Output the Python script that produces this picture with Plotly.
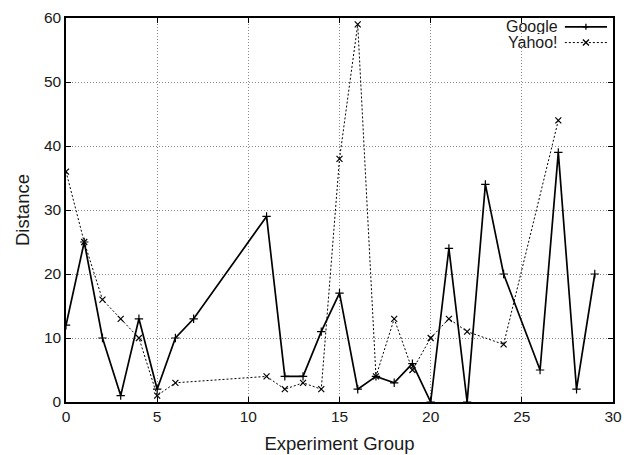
import plotly.graph_objects as go

google_x = [0, 1, 2, 3, 4, 5, 6, 7, 11, 12, 13, 14, 15, 16, 17, 18, 19, 20, 21, 22, 23, 24, 26, 27, 28, 29]
google_y = [12, 25, 10, 1, 13, 2, 10, 13, 29, 4, 4, 11, 17, 2, 4, 3, 6, 0, 24, 0, 34, 20, 5, 39, 2, 20]

yahoo_x = [0, 1, 2, 3, 4, 5, 6, 11, 12, 13, 14, 15, 16, 17, 18, 19, 20, 21, 22, 24, 27]
yahoo_y = [36, 25, 16, 13, 10, 1, 3, 4, 2, 3, 2, 38, 59, 4, 13, 5, 10, 13, 11, 9, 44]

x_ticks = [0, 5, 10, 15, 20, 25, 30]
y_ticks = [0, 10, 20, 30, 40, 50, 60]

FONT = "Liberation Sans, Arial, Helvetica, sans-serif"
TXT = "#1a1a1a"

fig = go.Figure()
fig.add_trace(go.Scatter(
    x=google_x, y=google_y, mode="lines+markers", name="Google",
    line=dict(color="black", width=1.7),
    marker=dict(symbol="cross-thin", size=6, color="black", line=dict(color="black", width=1.2)),
    showlegend=False,
))
fig.add_trace(go.Scatter(
    x=yahoo_x, y=yahoo_y, mode="lines+markers", name="Yahoo!",
    line=dict(color="black", width=1, dash="2px,2px"),
    marker=dict(symbol="x-thin", size=6, color="black", line=dict(color="black", width=1.2)),
    showlegend=False,
))

axis_common = dict(
    showline=True, linecolor="black", linewidth=1.5, mirror="ticks",
    ticks="inside", ticklen=5, tickcolor="black", tickwidth=1,
    showgrid=True, gridcolor="#8a8a8a", griddash="1px,2px", gridwidth=1,
    zeroline=False, automargin=False, tickfont=dict(size=15.5, color=TXT, family=FONT),
)

fig.update_xaxes(range=[0, 30], tickvals=x_ticks,
                 title=dict(text="Experiment Group", font=dict(size=18.5, color=TXT, family=FONT), standoff=13),
                 **axis_common)
fig.update_yaxes(range=[0, 60], tickvals=y_ticks,
                 title=dict(text="Distance", font=dict(size=18.5, color=TXT, family=FONT), standoff=9),
                 **axis_common)

# gnuplot-style key: text right-aligned, line sample to its right
leg_text_x = 0.903
leg_x0, leg_x1 = 0.912, 0.989
legend_entries = [("Google", 0.977, dict(color="black", width=1.7), "plus"),
                  ("Yahoo!", 0.936, dict(color="black", width=1, dash="2px,2px"), "x")]
shapes = []
annotations = []
for name, yy, ln, mk in legend_entries:
    annotations.append(dict(x=leg_text_x, y=yy, xref="paper", yref="paper", text=name, showarrow=False,
                            xanchor="right", yanchor="middle", height=15, valign="middle",
                            font=dict(size=16, color=TXT, family=FONT)))
    shapes.append(dict(type="line", xref="paper", yref="paper", x0=leg_x0, x1=leg_x1, y0=yy, y1=yy, line=ln))
    xm = (leg_x0 + leg_x1) / 2
    if mk == "plus":
        path = "M-3,0 L3,0 M0,-3 L0,3"
    else:
        path = "M-3,-3 L3,3 M-3,3 L3,-3"
    shapes.append(dict(type="path", xref="paper", yref="paper", xsizemode="pixel", ysizemode="pixel",
                       xanchor=xm, yanchor=yy, path=path, line=dict(color="black", width=1.3)))

# page body adds an 8px margin, so the figure is 8px smaller to fit the 635x455 window
fig.update_layout(
    width=627, height=447,
    margin=dict(l=58, r=22, t=10, b=53, autoexpand=False),
    paper_bgcolor="white", plot_bgcolor="white",
    font=dict(family=FONT, color=TXT),
    shapes=shapes, annotations=annotations,
    showlegend=False,
)

fig.write_html("out.html")
